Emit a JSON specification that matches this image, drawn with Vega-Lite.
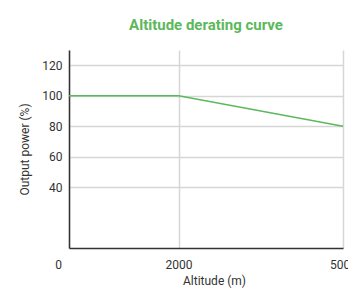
{
  "$schema": "https://vega.github.io/schema/vega-lite/v6.json",
  "autosize": {"type": "none"},
  "width": 274,
  "height": 198,
  "padding": {"left": 69, "top": 50, "right": 5, "bottom": 47},
  "background": "white",
  "title": {"text": "Altitude derating curve", "color": "#5cb85c", "fontSize": 15, "fontWeight": "bold", "font": "Roboto", "offset": 17, "anchor": "middle"},
  "data": {"values": [
    {"altitude": 0, "power": 100},
    {"altitude": 2000, "power": 100},
    {"altitude": 5000, "power": 80}
  ]},
  "mark": {"type": "line", "color": "#5cb85c", "strokeWidth": 1.5},
  "encoding": {
    "x": {"field": "altitude", "type": "quantitative", "title": "Altitude (m)",
      "scale": {"domain": [0, 5000], "nice": false},
      "axis": {"values": [0, 2000, 5000], "format": "d", "domainColor": "#333", "domainWidth": 1.5, "ticks": false, "gridColor": "#d6d6d6", "gridWidth": 1.5,
        "labelFlush": false, "labelBound": false, "labelOverlap": false,
        "labelPadding": 11, "labelFontSize": 12, "labelColor": "#333", "labelFont": "Roboto",
        "labelOffset": {"condition": {"test": "datum.value == 0", "value": -11}, "value": 0},
        "titleX": 145,
        "titleFont": "Roboto", "titleFontSize": 12, "titleFontWeight": "normal", "titleColor": "#333", "titlePadding": 5}},
    "y": {"field": "power", "type": "quantitative", "title": "Output power (%)",
      "scale": {"domain": [0, 130], "nice": false},
      "axis": {"values": [40, 60, 80, 100, 120], "domainColor": "#333", "domainWidth": 1.5, "ticks": false, "gridColor": "#d6d6d6", "gridWidth": 1.5,
        "labelFlush": false,
        "labelPadding": 7, "labelFontSize": 12, "labelColor": "#333", "labelFont": "Roboto",
        "titleFont": "Roboto", "titleFontSize": 12, "titleFontWeight": "normal", "titleColor": "#333", "titlePadding": 10}}
  },
  "config": {"view": {"stroke": null}}
}
